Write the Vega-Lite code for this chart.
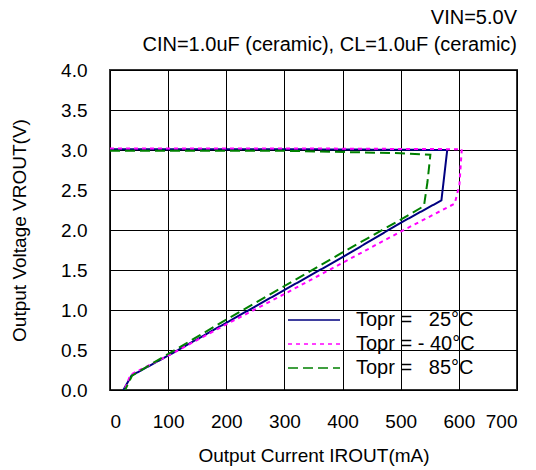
{
  "$schema": "https://vega.github.io/schema/vega-lite/v6.json",
  "width": 407,
  "height": 320,
  "autosize": {"type": "none"},
  "padding": {"left": 110, "top": 70, "right": 19, "bottom": 79},
  "config": {
    "font": "Liberation Sans",
    "view": {"stroke": "#333333", "strokeWidth": 2},
    "axis": {"labelFontSize": 19, "titleFontSize": 19, "labelColor": "#000000", "titleColor": "#000000", "titleFontWeight": "normal", "gridColor": "#000000", "gridOpacity": 1, "gridWidth": 1, "ticks": false, "domain": false}
  },
  "title": {
    "text": ["VIN=5.0V", "CIN=1.0uF (ceramic), CL=1.0uF (ceramic)"],
    "anchor": "end",
    "fontSize": 20,
    "fontWeight": "normal",
    "color": "#000000",
    "lineHeight": 27,
    "offset": 6
  },
  "data": {
    "values": [
      {"s": "Topr =\u00a0\u00a0\u00a025°C", "i": 1, "x": 0, "y": 3.01},
      {"s": "Topr =\u00a0\u00a0\u00a025°C", "i": 2, "x": 300, "y": 3.01},
      {"s": "Topr =\u00a0\u00a0\u00a025°C", "i": 3, "x": 580, "y": 3.0},
      {"s": "Topr =\u00a0\u00a0\u00a025°C", "i": 4, "x": 570, "y": 2.37},
      {"s": "Topr =\u00a0\u00a0\u00a025°C", "i": 5, "x": 500, "y": 2.09},
      {"s": "Topr =\u00a0\u00a0\u00a025°C", "i": 6, "x": 400, "y": 1.66},
      {"s": "Topr =\u00a0\u00a0\u00a025°C", "i": 7, "x": 300, "y": 1.25},
      {"s": "Topr =\u00a0\u00a0\u00a025°C", "i": 8, "x": 200, "y": 0.84},
      {"s": "Topr =\u00a0\u00a0\u00a025°C", "i": 9, "x": 100, "y": 0.43},
      {"s": "Topr =\u00a0\u00a0\u00a025°C", "i": 10, "x": 37, "y": 0.18},
      {"s": "Topr =\u00a0\u00a0\u00a025°C", "i": 11, "x": 23, "y": 0},
      {"s": "Topr = - 40°C", "i": 1, "x": 0, "y": 3.02},
      {"s": "Topr = - 40°C", "i": 2, "x": 300, "y": 3.02},
      {"s": "Topr = - 40°C", "i": 3, "x": 605, "y": 3.01},
      {"s": "Topr = - 40°C", "i": 4, "x": 601, "y": 2.57},
      {"s": "Topr = - 40°C", "i": 5, "x": 593, "y": 2.33},
      {"s": "Topr = - 40°C", "i": 6, "x": 500, "y": 1.98},
      {"s": "Topr = - 40°C", "i": 7, "x": 400, "y": 1.59},
      {"s": "Topr = - 40°C", "i": 8, "x": 300, "y": 1.2},
      {"s": "Topr = - 40°C", "i": 9, "x": 200, "y": 0.82},
      {"s": "Topr = - 40°C", "i": 10, "x": 100, "y": 0.43},
      {"s": "Topr = - 40°C", "i": 11, "x": 35, "y": 0.19},
      {"s": "Topr = - 40°C", "i": 12, "x": 25, "y": 0},
      {"s": "Topr =\u00a0\u00a0\u00a085°C", "i": 1, "x": 0, "y": 2.99},
      {"s": "Topr =\u00a0\u00a0\u00a085°C", "i": 2, "x": 300, "y": 2.99},
      {"s": "Topr =\u00a0\u00a0\u00a085°C", "i": 3, "x": 500, "y": 2.96},
      {"s": "Topr =\u00a0\u00a0\u00a085°C", "i": 4, "x": 551, "y": 2.94},
      {"s": "Topr =\u00a0\u00a0\u00a085°C", "i": 5, "x": 546, "y": 2.6},
      {"s": "Topr =\u00a0\u00a0\u00a085°C", "i": 6, "x": 540, "y": 2.3},
      {"s": "Topr =\u00a0\u00a0\u00a085°C", "i": 7, "x": 500, "y": 2.13},
      {"s": "Topr =\u00a0\u00a0\u00a085°C", "i": 8, "x": 400, "y": 1.72},
      {"s": "Topr =\u00a0\u00a0\u00a085°C", "i": 9, "x": 300, "y": 1.3},
      {"s": "Topr =\u00a0\u00a0\u00a085°C", "i": 10, "x": 200, "y": 0.88},
      {"s": "Topr =\u00a0\u00a0\u00a085°C", "i": 11, "x": 100, "y": 0.45},
      {"s": "Topr =\u00a0\u00a0\u00a085°C", "i": 12, "x": 38, "y": 0.18},
      {"s": "Topr =\u00a0\u00a0\u00a085°C", "i": 13, "x": 26, "y": 0}
    ]
  },
  "mark": {"type": "line", "strokeWidth": 2, "clip": true},
  "encoding": {
    "x": {
      "field": "x", "type": "quantitative",
      "scale": {"domain": [0, 700], "nice": false},
      "axis": {"values": [0, 100, 200, 300, 400, 500, 600, 700], "labelPadding": 22, "title": "Output Current IROUT(mA)", "titlePadding": 15}
    },
    "y": {
      "field": "y", "type": "quantitative",
      "scale": {"domain": [0, 4], "nice": false},
      "axis": {"values": [0, 0.5, 1, 1.5, 2, 2.5, 3, 3.5, 4], "format": ".1f", "labelPadding": 23, "title": "Output Voltage VROUT(V)", "titlePadding": 31}
    },
    "order": {"field": "i", "type": "quantitative"},
    "color": {
      "field": "s", "type": "nominal",
      "scale": {"domain": ["Topr =\u00a0\u00a0\u00a025°C", "Topr = - 40°C", "Topr =\u00a0\u00a0\u00a085°C"], "range": ["#000080", "#FF00FF", "#008000"]},
      "legend": {"orient": "none", "legendX": 177, "legendY": 240, "title": null, "symbolType": "stroke", "symbolSize": 2704, "symbolStrokeWidth": 1.5, "labelFontSize": 20, "labelColor": "#000000", "labelOffset": 15, "clipHeight": 20, "rowPadding": 4, "labelLimit": 300}
    },
    "strokeDash": {
      "field": "s", "type": "nominal",
      "scale": {"domain": ["Topr =\u00a0\u00a0\u00a025°C", "Topr = - 40°C", "Topr =\u00a0\u00a0\u00a085°C"], "range": [[1, 0], [4, 4], [10, 5]]},
      "legend": {"orient": "none", "legendX": 177, "legendY": 240, "title": null, "symbolType": "stroke", "symbolSize": 2704, "symbolStrokeWidth": 1.5, "labelFontSize": 20, "labelColor": "#000000", "labelOffset": 15, "clipHeight": 20, "rowPadding": 4, "labelLimit": 300}
    }
  }
}
